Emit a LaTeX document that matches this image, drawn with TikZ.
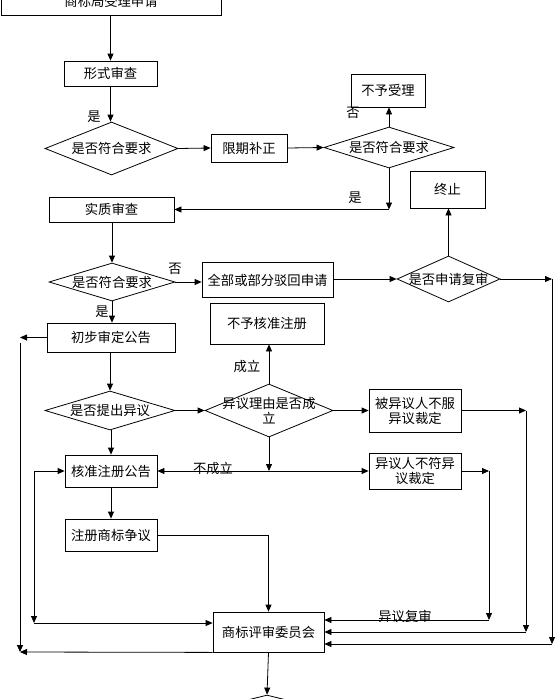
\documentclass[tikz,border=0pt]{standalone}
\usepackage{fontspec}
\setmainfont{Noto Sans CJK SC}
\usetikzlibrary{arrows.meta,shapes.geometric}
\begin{document}
\begin{tikzpicture}[x=1pt,y=-1pt,
  font=\fontsize{13.3}{15}\selectfont,
  line width=0.8pt,
  >={Triangle[length=7pt,width=6pt]},
  arr/.style={->},
  bx/.style 2 args={draw, rectangle, inner sep=0pt, align=center, minimum width=#1pt, minimum height=#2pt},
  dia/.style 2 args={draw, diamond, inner sep=0pt, minimum width=#1pt, minimum height=#2pt},
  dtxt/.style={inner sep=0pt, align=center},
  lbl/.style={inner sep=0pt}
]
\useasboundingbox (0,0) rectangle (556,699);
\clip (0,0) rectangle (556,699);
\fill[white] (0,0) rectangle (556,699);

% boxes
\node[bx={220}{27}] (top) at (111,1.5) {\raisebox{-3pt}{商标局受理申请}};
\node[bx={93}{25}] (xs) at (110.5,73.5) {形式审查};
\node[bx={76}{28}] (xq) at (249,148) {限期补正};
\node[bx={74}{33}] (bsl) at (388,90.5) {不予受理};
\node[bx={125}{25}] (sz) at (111.5,209.5) {实质审查};
\node[bx={131}{35}] (bh) at (267.5,280) {全部或部分驳回申请};
\node[bx={75}{37}] (zz) at (447.5,189.5) {终止};
\node[bx={128}{29}] (cb) at (111,337.5) {初步审定公告};
\node[bx={114}{41}] (bhz) at (267,323.5) {不予核准注册};
\node[bx={92}{43}] (bfy) at (415,410.5) {被异议人不服\\异议裁定};
\node[bx={92}{36}] (bfh) at (415,471) {异议人不符异\\议裁定};
\node[bx={92}{32}] (hz) at (111,471) {核准注册公告};
\node[bx={92}{32}] (zc) at (111,535) {注册商标争议};
\node[bx={111}{40}] (pw) at (268.5,632) {商标评审委员会};

% diamonds
\node[dia={133}{53}] (d1) at (111.5,148.5) {};
\node[dtxt] (d1t) at (d1.center) {是否符合要求};
\node[dia={130}{41}] (d2) at (389,147.5) {};
\node[dtxt] (d2t) at (d2.center) {是否符合要求};
\node[dia={126}{38}] (d3) at (112,282) {};
\node[dtxt] (d3t) at (d3.center) {是否符合要求};
\node[dia={103}{46}] (d4) at (448.5,279) {};
\node[dtxt] (d4t) at (d4.center) {是否申请复审};
\node[dia={130}{39}] (d5) at (110,410.5) {};
\node[dtxt] (d5t) at (d5.center) {是否提出异议};
\node[dia={128}{53}] (d6) at (269,410.5) {};
\node[dtxt] (d6t) at (d6.center) {异议理由是否成\\立};
\node[dia={160}{40}] (d7) at (267,715) {};

% labels
\node[lbl] (l1) at (94,117) {是};
\node[lbl] (l2) at (353,113) {否};
\node[lbl] (l3) at (355,198) {是};
\node[lbl] (l4) at (175,269) {否};
\node[lbl] (l5) at (102,312) {是};
\node[lbl] (l6) at (247,366) {成立};
\node[lbl] (l7) at (213,468) {不成立};
\node[lbl] (l8) at (405,616) {异议复审};

% helper coordinates
\coordinate (c1) at (d2.south |- sz.east);
\coordinate (c2) at (552,279);
\coordinate (c3) at (552,644);
\coordinate (c4) at (20,337.5);
\coordinate (c5) at (20,652);
\coordinate (c6) at (526,410.5);
\coordinate (c7) at (526,632);
\coordinate (c8) at (269,471);
\coordinate (c9) at (489,471);
\coordinate (c10) at (489,620);
\coordinate (c11) at (34,471);
\coordinate (c12) at (34,623);

% connectors
\draw[arr] (top.south -| xs.north) -- (xs.north);
\draw[arr] (xs.south) -- (d1.north -| xs.south);
\draw[arr] (d1.east) -- (xq.west);
\draw[arr] (xq.east) -- (d2.west);
\draw[arr] (d2.north) -- (bsl.south -| d2.north);
\draw[arr] (d2.south) -- (c1);
\draw[arr] (c1) -- (sz.east);
\draw[arr] (sz.south -| d3.north) -- (d3.north);
\draw[arr] (d3.east) -- (bh.west |- d3.east);
\draw[arr] (bh.east |- d4.west) -- (d4.west);
\draw[arr] (d4.north) -- (zz.south -| d4.north);
\draw[arr] (d4.east) -- (c2);
\draw[arr] (c2) -- (c3);
\draw[arr] (c3) -- (pw.east |- c3);
\draw[arr] (d3.south) -- (cb.north -| d3.south);
\draw[arr] (cb.west) -- (c4);
\draw[arr] (c4) ++(0,5) -- (c5);
\draw[arr] (pw.south west) -- (c5);
\draw[arr] (cb.south -| d5.north) -- (d5.north);
\draw[arr] (d5.east) -- (d6.west);
\draw[arr] (d6.north) -- (bhz.south -| d6.north);
\draw[arr] (d6.east) -- (bfy.west);
\draw[arr] (bfy.east) -- (c6);
\draw[arr] (c6) -- (c7);
\draw[arr] (c7) -- (pw.east |- c7);
\draw[arr] (d6.south) -- (c8);
\draw[arr] (c8) -- (hz.east);
\draw[arr] (c8) -- (bfh.west);
\draw[arr] (bfh.east) -- (c9);
\draw[arr] (c9) -- (c10);
\draw[arr] (c10) -- (pw.east |- c10);
\draw[arr] (d5.south -| hz.north) -- (hz.north);
\draw[arr] (hz.south) -- (zc.north);
\draw[arr] (zc.east) -| (pw.north);
\draw[arr] (c11) -- (hz.west);
\draw[arr] (c11) -- (c12);
\draw[arr] (c12) -- (pw.west |- c12);
\draw[arr] (pw.south) -- (d7.north);
\end{tikzpicture}
\end{document}
